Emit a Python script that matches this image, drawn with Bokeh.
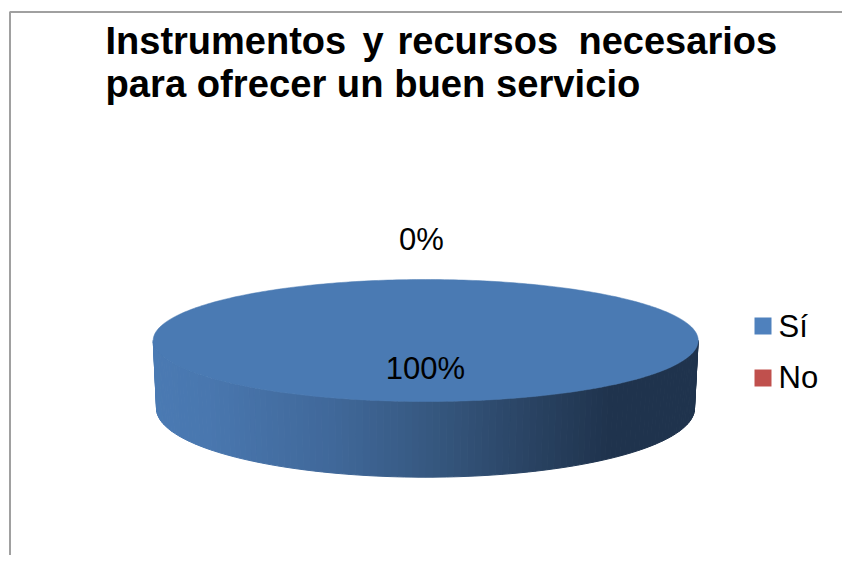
import numpy as np
from bokeh.plotting import figure
from bokeh.models import Range1d
from bokeh.core.properties import value
from bokeh.embed import file_html
from bokeh.resources import INLINE

title_line1 = ["Instrumentos", "y", "recursos", "necesarios"]
title_line2 = "para ofrecer un buen servicio"
categories = ["Sí", "No"]
shares = [100, 0]
labels = ["100%", "0%"]
legend_colors = ["#4f81bd", "#c0504d"]

FONT = value("Liberation Sans")
p = figure(width=842, height=555, output_backend="svg", toolbar_location=None,
           x_range=Range1d(0, 842), y_range=Range1d(555, 0), min_border=0,
           outline_line_color=None, background_fill_color="white")
p.axis.visible = False
p.grid.visible = False

# chart frame
p.line([9.5, 9.5, 842], [555, 11.5, 11.5], line_color="#a0a0a0", line_width=2)

# pie geometry (top ellipse, bottom ellipse)
TCX, TCY, TRX, TRY = 425.2, 340.0, 272.5, 61.0
BCX, BCY, BRX, BRY = 425.0, 408.0, 269.0, 68.7
stop_x = [150, 205, 330, 430, 525, 610, 700]
stop_rgb = [(74, 122, 179), (73, 119, 175), (64, 104, 154), (54, 88, 128),
            (42, 68, 100), (31, 51, 77), (31, 51, 77)]

total = sum(shares)
start = 0.0
for share in shares:
    sweep = 2 * np.pi * share / total
    if sweep == 0:
        continue
    # side wall: only the front half (screen y grows downward) is visible
    th = np.linspace(start, min(start + sweep, np.pi), 121)
    xs, ys, cols = [], [], []
    for a, b in zip(th[:-1], th[1:]):
        xs.append([TCX + TRX * np.cos(a), TCX + TRX * np.cos(b),
                   BCX + BRX * np.cos(b), BCX + BRX * np.cos(a)])
        ys.append([TCY + TRY * np.sin(a), TCY + TRY * np.sin(b),
                   BCY + BRY * np.sin(b), BCY + BRY * np.sin(a)])
        mx = TCX + TRX * np.cos((a + b) / 2)
        rgb = [int(round(np.interp(mx, stop_x, [c[i] for c in stop_rgb]))) for i in range(3)]
        cols.append("#%02x%02x%02x" % tuple(rgb))
    p.patches(xs, ys, fill_color=cols, line_color=cols, line_width=1)
    # top face
    tt = np.linspace(start, start + sweep, 361)
    p.patch(TCX + TRX * np.cos(tt), TCY + TRY * np.sin(tt),
            fill_color="#4a7ab3", line_color="#4a7ab3", line_width=0.5)
    start += sweep

# data labels
p.text([425, 421], [368, 239], text=labels, text_font=FONT, text_font_size="31px",
       text_color="#000000", text_align="center", text_baseline="middle")

# title
p.text([105, 362, 397, 578], [40, 40, 40, 40], text=title_line1, text_font=FONT,
       text_font_size="38px", text_font_style="bold", text_color="#000000",
       text_align="left", text_baseline="middle")
p.text([105], [83], text=[title_line2], text_font=FONT,
       text_font_size="38.2px", text_font_style="bold", text_color="#000000",
       text_align="left", text_baseline="middle")

# legend
p.quad(left=[754, 754], right=[771, 771], top=[317, 369], bottom=[334, 386],
       fill_color=legend_colors, line_color=None)
p.text([778, 778], [326, 377], text=categories, text_font=FONT, text_font_size="31px",
       text_color="#000000", text_align="left", text_baseline="middle")

open("out.html", "w").write(file_html(p, INLINE))
